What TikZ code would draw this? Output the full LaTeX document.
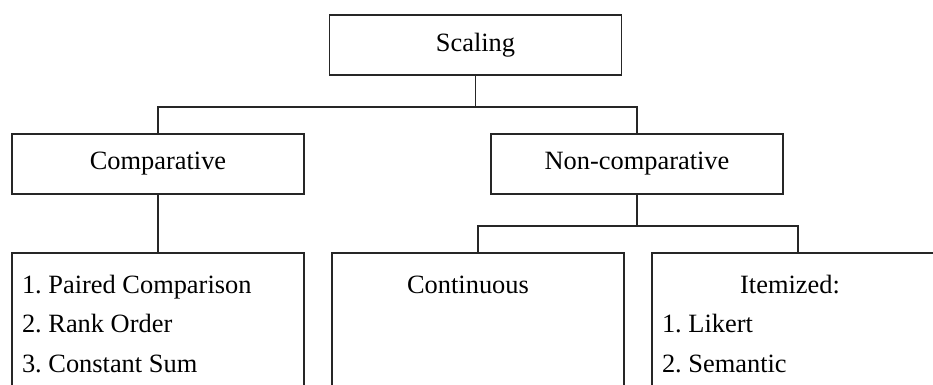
\documentclass[tikz,border=0pt]{standalone}
\usepackage{fontspec}
\setmainfont{Liberation Serif}
\frenchspacing
\begin{document}
\begin{tikzpicture}[x=0.5pt,y=-0.5pt,
  box/.style={draw=black!85,line width=0.55pt,minimum width=146pt,minimum height=30pt,inner sep=0pt,outer sep=0pt,font=\fontsize{13.2}{16}\selectfont},
  tallbox/.style={draw=black!85,line width=0.55pt,minimum width=146pt,minimum height=80pt,inner sep=0pt,outer sep=0pt,anchor=north},
  txt/.style={inner sep=0pt,outer sep=0pt,font=\fontsize{13.2}{16}\selectfont},
  conn/.style={draw=black!85,line width=0.55pt}]
\useasboundingbox (0,0) rectangle (933,385);
\clip (0,0) rectangle (933,385);
% top level
\node[box] (scaling) at (475.5,45) {\raisebox{-2pt}{Scaling}};
\node[box] (comp) at (158,164) {\raisebox{-2pt}{Comparative}};
\node[box] (noncomp) at (637,164) {\raisebox{-2pt}{Non-comparative}};
% bottom boxes
\node[tallbox] (list) at (158,253) {};
\node[tallbox] (cont) at (478,253) {};
\node[tallbox] (item) at (798,253) {};
% texts
\node[txt,anchor=base west] (l1) at (22,293) {1. Paired Comparison};
\node[txt,anchor=base west] (l2) at (22,332) {2. Rank Order};
\node[txt,anchor=base west] (l3) at (22,372) {3. Constant Sum};
\node[txt,anchor=base] (tcont) at (468,293) {Continuous};
\node[txt,anchor=base] (titem) at (790,293) {Itemized:};
\node[txt,anchor=base west] (i1) at (662,332) {1. Likert};
\node[txt,anchor=base west] (i2) at (662,372) {2. Semantic};
% connectors
\draw[conn] (scaling.south) -- ++(0,32) coordinate (j1);
\draw[conn] (comp.north) |- (j1) -| (noncomp.north);
\draw[conn] (comp.south) -- (list.north);
\draw[conn] (noncomp.south) -- ++(0,32) coordinate (j2);
\draw[conn] (cont.north) |- (j2) -| (item.north);
\end{tikzpicture}
\end{document}
